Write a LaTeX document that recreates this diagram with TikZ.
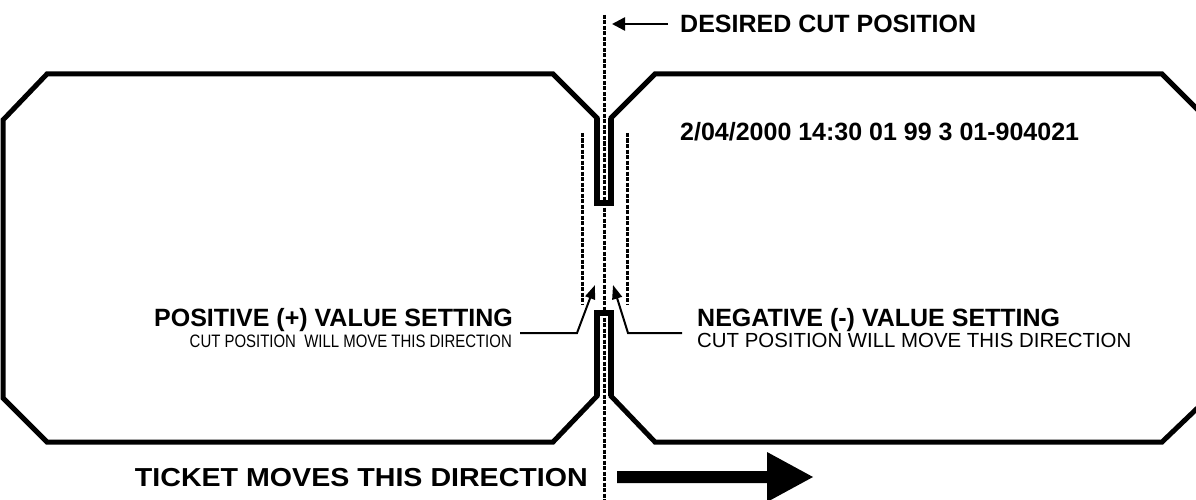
\documentclass[tikz,border=0pt]{standalone}
\usepackage{graphicx}
\usepackage{fontspec}
\setmainfont{Liberation Sans}
\usetikzlibrary{arrows.meta}

\begin{document}
\begin{tikzpicture}[
	x=1pt, y=-1pt,
	ticket/.style={line width=5pt, line join=miter},
	slot/.style={line width=6pt, line join=miter},
	cutline/.style={line width=3pt, dash pattern=on 4pt off 1.5pt},
	leader/.style={line width=2pt, -{Triangle[length=14pt,width=10pt]}},
	pointer/.style={line width=2.5pt, -{Triangle[length=13pt,width=13pt]}},
	bigtext/.style={font=\fontsize{25}{30}\selectfont\bfseries, inner sep=0pt},
	smalltext/.style={font=\fontsize{20.4}{24}\selectfont, inner sep=0pt}
	]
\clip (0,0) rectangle (1196,500);
% both tickets, joined at the perforation
\draw[ticket] (553,442) -- (47,442) -- (3,398) -- (3,120) -- (47,74) -- (553,74)
	-- (597,118) -- (597,203) -- (611,203) -- (611,118) -- (655,74) -- (1162,74)
	-- (1208,120) -- (1208,398) -- (1162,442) -- (655,442) -- (611,396) -- (611,313)
	-- (597,313) -- (597,396) -- cycle;
% perforation slots
\draw[slot] (597,118) -- (597,203) -- (611,203) -- (611,118);
\draw[slot] (597,396) -- (597,313) -- (611,313) -- (611,396);
% cut lines
\draw[cutline] (604,15) -- (604,500);
\draw[cutline] (582,133) -- (582,305);
\draw[cutline] (627,133) -- (627,305);
% texts
\node[bigtext, anchor=base west] (desired) at (680,33) {DESIRED CUT POSITION};
\node[bigtext, anchor=base west] (stamp) at (680,141) {2/04/2000 14:30 01 99 3 01-904021};
\node[bigtext, anchor=base east] (pos) at (513,326) {POSITIVE (+) VALUE SETTING};
\node[smalltext, font=\fontsize{18}{22}\selectfont, anchor=base east] (poscut) at (512,347) {\scalebox{0.83}[1]{CUT POSITION\ \ WILL MOVE THIS DIRECTION}};
\node[bigtext, anchor=base west] (neg) at (697,326) {NEGATIVE (-) VALUE SETTING};
\node[smalltext, anchor=base west] (negcut) at (697,347) {CUT POSITION WILL MOVE THIS DIRECTION};
\node[bigtext, font=\fontsize{26}{30}\selectfont\bfseries, anchor=base east] (ticket) at (588,486) {\scalebox{1.1}[1]{TICKET MOVES THIS DIRECTION}};
% arrows
\coordinate (desiredtail) at (668,24);
\coordinate (cuttip) at (612,24);
\draw[pointer] (desiredtail) -- (cuttip);
\coordinate (postail) at (520,333);
\coordinate (posbend) at (577,333);
\coordinate (postip) at (595,285);
\draw[leader] (postail) -- (posbend) -- (postip);
\coordinate (negtail) at (682,333);
\coordinate (negbend) at (628,333);
\coordinate (negtip) at (613,285);
\draw[leader] (negtail) -- (negbend) -- (negtip);
% direction of travel
\fill (617,471) -- (767,471) -- (767,452) -- (813,477) -- (767,502) -- (767,483) -- (617,483) -- cycle;
\end{tikzpicture}
\end{document}
